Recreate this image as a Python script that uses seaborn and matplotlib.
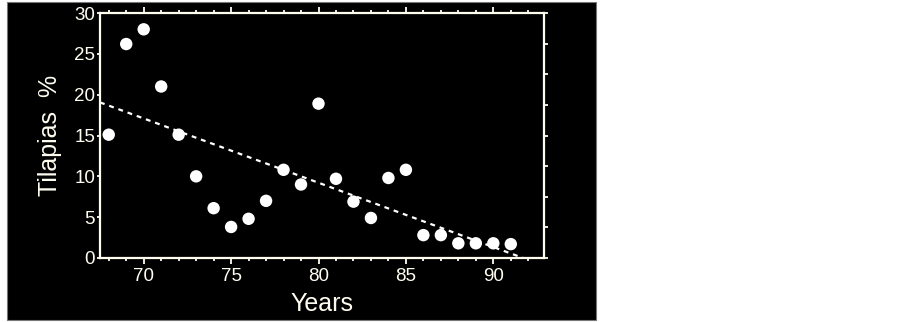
import numpy as np
import pandas as pd
import matplotlib
matplotlib.use('Agg')
import matplotlib.pyplot as plt
from matplotlib.patches import Rectangle
from matplotlib.ticker import MultipleLocator
import seaborn as sns

# data
years = [68, 69, 70, 71, 72, 73, 74, 75, 76, 77, 78, 79,
         80, 81, 82, 83, 84, 85, 86, 87, 88, 89, 90, 91]
tilapias = [15.1, 26.2, 28.0, 21.0, 15.1, 10.0, 6.1, 3.8, 4.8, 7.0, 10.8, 9.0,
            18.9, 9.7, 6.9, 4.9, 9.8, 10.8, 2.8, 2.8, 1.8, 1.8, 1.8, 1.7]
y_ticks = [0, 5, 10, 15, 20, 25, 30]
x_ticks = [70, 75, 80, 85, 90]

df = pd.DataFrame({'year': years, 'tilapias': tilapias})

sns.set_style("ticks")
plt.rcParams['font.family'] = ['Liberation Sans', 'DejaVu Sans']

fg = '#fffdf0'

fig = plt.figure(figsize=(9.03, 3.22), dpi=100, facecolor='white')
# black slide panel behind the chart
fig.patches.append(Rectangle((7 / 903, 2 / 322), 589 / 903, 318 / 322,
                             transform=fig.transFigure, facecolor='black',
                             edgecolor='#777777', linewidth=0.8, zorder=-5))

ax = fig.add_axes([100 / 903, 64 / 322, 444 / 903, 245 / 322])
ax.set_facecolor('black')
ax.set_xlim(67.5, 92.9)
ax.set_ylim(0, 30)

# scatter + least squares line, line runs across the whole frame
sns.regplot(x='year', y='tilapias', data=df, ax=ax, ci=None, truncate=False,
            scatter_kws=dict(s=80, color='white', edgecolor='none', alpha=1, zorder=3),
            line_kws=dict(color='white', linestyle=(0, (2.2, 2.2)), linewidth=1.6))
ax.set_xlim(67.5, 92.9)
ax.set_ylim(0, 30)

for side in ['left', 'bottom', 'top', 'right']:
    ax.spines[side].set_visible(True)
    ax.spines[side].set_color(fg)
    ax.spines[side].set_linewidth(1.6)

ax.set_xticks(x_ticks)
ax.xaxis.set_minor_locator(MultipleLocator(1))
ax.set_yticks(y_ticks)
ax.tick_params(axis='x', which='both', top=True, bottom=True, direction='out',
               color=fg, labelcolor=fg, labelsize=13.5, width=1.3, pad=3)
ax.tick_params(axis='x', which='major', length=4)
ax.tick_params(axis='x', which='minor', length=2.5)
ax.tick_params(axis='y', which='major', left=True, right=False, direction='out',
               length=2.5, width=1.3, color=fg, labelcolor=fg, labelsize=13.5, pad=1)

# unlabelled ticks on the right frame
ax2 = ax.twinx()
ax2.set_ylim(0, 8)
ax2.set_yticks(range(9))
ax2.tick_params(axis='y', right=True, direction='out', length=3, width=1.3,
                color=fg, labelright=False)
for side in ax2.spines:
    ax2.spines[side].set_visible(False)

ax.set_xlabel('Years', color=fg, fontsize=18, labelpad=5)
ax.set_ylabel('Tilapias  %', color=fg, fontsize=18, labelpad=9)

plt.savefig('out.png', dpi=100, facecolor=fig.get_facecolor())
